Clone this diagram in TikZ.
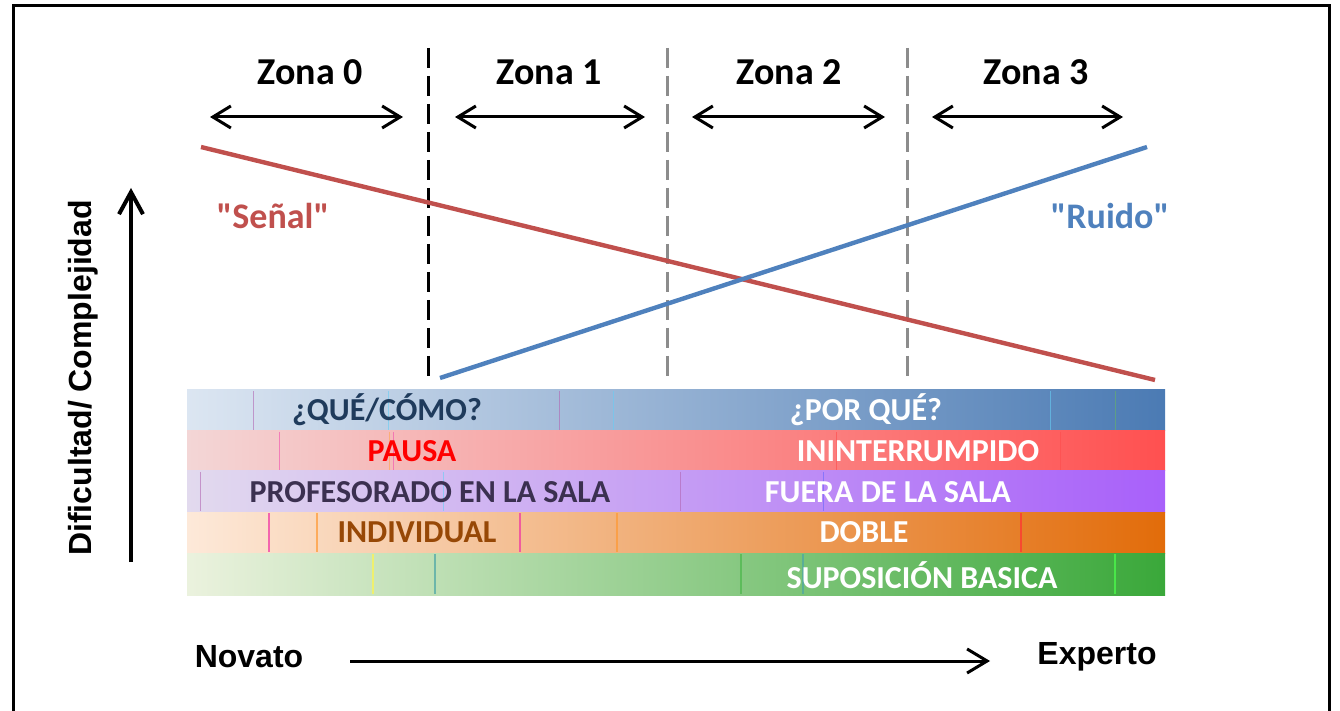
\documentclass[tikz,border=0pt]{standalone}
\usepackage{fontspec}
\setmainfont{Carlito}
\newfontfamily\arialfont{Liberation Sans}
\usetikzlibrary{arrows.meta}

\definecolor{senal}{HTML}{C0504D}
\definecolor{ruido}{HTML}{4F81BD}
\definecolor{divgray}{HTML}{8C8C8C}
\definecolor{qdark}{HTML}{1F3B5C}
\definecolor{pdark}{HTML}{3B3050}
\definecolor{ibrown}{HTML}{974806}

\begin{document}
\begin{tikzpicture}[x=0.5pt, y=-0.5pt, >={Straight Barb[length=9pt,width=11pt]},
	zone/.style={font=\fontsize{19}{21}\selectfont\bfseries},
	curvelabel/.style={font=\fontsize{18}{20}\selectfont\bfseries},
	bartext/.style={font=\fontsize{16}{18}\selectfont\bfseries, text=white},
	axislabel/.style={font=\arialfont\fontsize{16}{18}\selectfont\bfseries},
	divider/.style={line width=1.5pt, dash pattern=on 10pt off 4pt},
	zonearrow/.style={<->, line width=1.5pt}]

		\useasboundingbox (0,0) rectangle (1340,711);
		\draw[line width=1.5pt] (13,730) -- (13,6) -- (1329,6) -- (1329,730);

		\shade[left color=ruido!20, right color=ruido!95!black] (187,390) rectangle (1165,431);
		\shade[left color={rgb,255:red,243;green,214;blue,214}, right color={rgb,255:red,255;green,80;blue,80}] (187,431) rectangle (1165,471);
		\shade[left color={rgb,255:red,226;green,218;blue,238}, right color={rgb,255:red,168;green,96;blue,250}] (187,471) rectangle (1165,512);
		\shade[left color={rgb,255:red,253;green,233;blue,217}, right color={rgb,255:red,226;green,108;blue,10}] (187,512) rectangle (1165,553);
		\shade[left color={rgb,255:red,235;green,242;blue,222}, right color={rgb,255:red,58;green,168;blue,58}] (187,553) rectangle (1165,595);

		\foreach \x/\c in {253/violet, 388/cyan, 559/violet, 613/cyan, 1050/cyan, 1115/green!50!black}
			\draw[\c!60, line width=0.5pt, opacity=0.6] (\x,391) -- (\x,430);
		\foreach \x/\c in {279/magenta, 389/orange, 393/magenta, 836/red, 1060/red}
			\draw[\c!70, line width=0.5pt, opacity=0.6] (\x,432) -- (\x,470);
		\foreach \x/\c in {200/violet, 443/cyan, 823/blue, 680/violet}
			\draw[\c!60, line width=0.5pt, opacity=0.6] (\x,472) -- (\x,511);
		\foreach \x/\c in {269/magenta, 317/orange, 520/magenta, 617/orange, 1021/red}
			\draw[\c!80, line width=0.6pt, opacity=0.7] (\x,513) -- (\x,552);
		\foreach \x/\c in {373/yellow, 435/teal, 741/green!60!black, 803/teal, 1115/green}
			\draw[\c!70, line width=0.6pt, opacity=0.7] (\x,554) -- (\x,594);

		\coordinate (d0top) at (428,48);
		\coordinate (d0bot) at (428,383);
		\coordinate (d1top) at (667,48);
		\coordinate (d1bot) at (667,380);
		\coordinate (d2top) at (907,48);
		\coordinate (d2bot) at (907,380);
		\draw[divider] (d0top) -- (d0bot);
		\draw[divider, divgray] (d1top) -- (d1bot);
		\draw[divider, divgray] (d2top) -- (d2bot);

		\node[zone] (zone0) at (310,72) {Zona 0};
		\node[zone] (zone1) at (549,72) {Zona 1};
		\node[zone] (zone2) at (789,72) {Zona 2};
		\node[zone] (zone3) at (1036,72) {Zona 3};

		\coordinate (z0a) at (210,117); \coordinate (z0b) at (403,117);
		\coordinate (z1a) at (455,117); \coordinate (z1b) at (645,117);
		\coordinate (z2a) at (692,117); \coordinate (z2b) at (885,117);
		\coordinate (z3a) at (932,117); \coordinate (z3b) at (1123,117);
		\draw[zonearrow] (z0a) -- (z0b);
		\draw[zonearrow] (z1a) -- (z1b);
		\draw[zonearrow] (z2a) -- (z2b);
		\draw[zonearrow] (z3a) -- (z3b);

		\coordinate (senalstart) at (201,147);
		\coordinate (senalend) at (1155,380);
		\coordinate (ruidostart) at (440,378);
		\coordinate (ruidoend) at (1147,147);
		\draw[senal, line width=2.2pt] (senalstart) -- (senalend);
		\draw[ruido, line width=2.2pt] (ruidostart) -- (ruidoend);

		\node[curvelabel, text=senal] (senal) at (273,216) {\textquotedbl Señal\textquotedbl};
		\node[curvelabel, text=ruido] (ruido) at (1110,216) {\textquotedbl Ruido\textquotedbl};

		\node[bartext, text=qdark] (que) at (387,410) {¿QUÉ/CÓMO?};
		\node[bartext] (porque) at (866,410) {¿POR QUÉ?};
		\node[bartext, text=red] (pausa) at (412,451) {PAUSA};
		\node[bartext] (ininterrumpido) at (918,451) {ININTERRUMPIDO};
		\node[bartext, text=pdark] (ensala) at (430,492) {PROFESORADO EN LA SALA};
		\node[bartext] (fuerasala) at (888,492) {FUERA DE LA SALA};
		\node[bartext, text=ibrown] (individual) at (417,532) {INDIVIDUAL};
		\node[bartext] (doble) at (864,532) {DOBLE};
		\node[bartext] (suposicion) at (922,575) {SUPOSICIÓN BASICA};

		\coordinate (ybottom) at (131,562);
		\coordinate (ytop) at (131,188);
		\draw[->, line width=2pt, >={Straight Barb[length=11pt,width=12pt]}] (ybottom) -- (ytop);
		\node[axislabel, rotate=90] (dificultad) at (83,378) {Dificultad/ Complejidad};

		\node[axislabel] (novato) at (249,657) {Novato};
		\node[axislabel] (experto) at (1097,657) {Experto};
		\coordinate (xleft) at (350,661);
		\coordinate (xright) at (990,661);
		\draw[->, line width=1.5pt, >={Straight Barb[length=10pt,width=12pt]}] (xleft) -- (xright);

		\end{tikzpicture}
\end{document}
